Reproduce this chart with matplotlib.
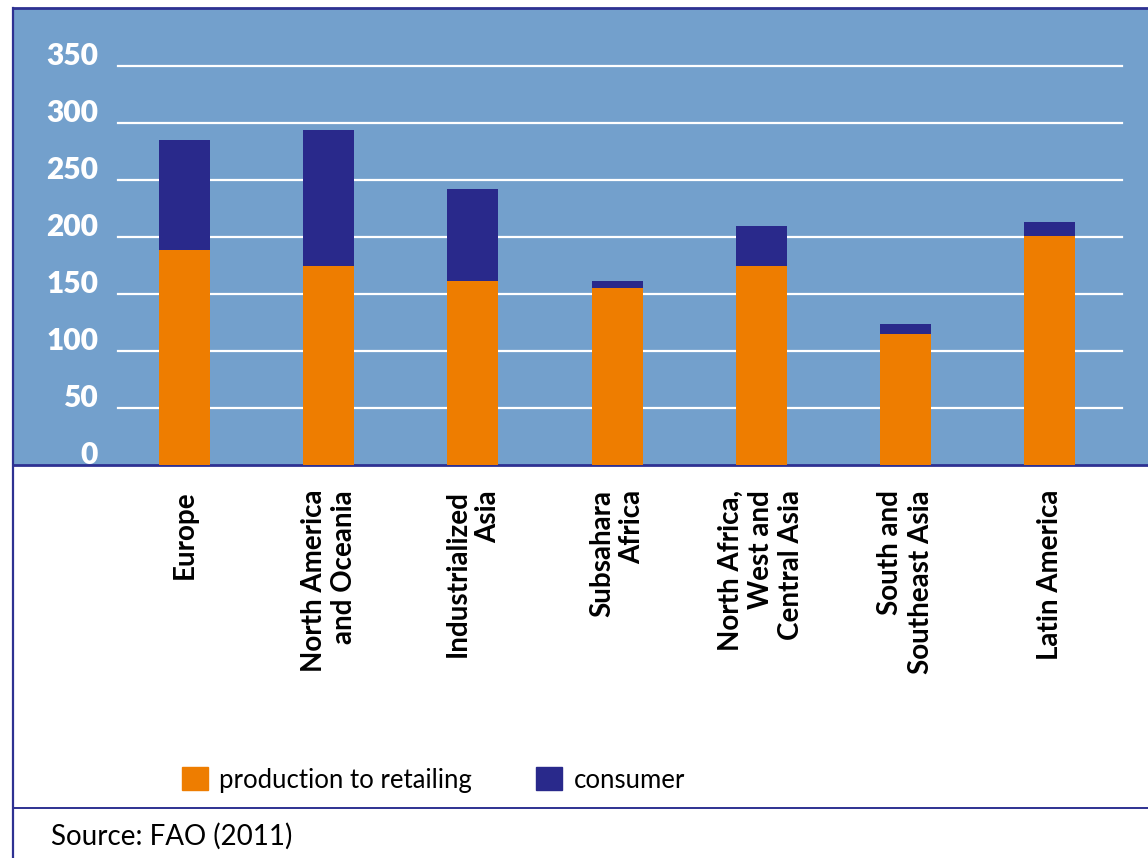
"""Food loss per capita by region, stacked by stage of the supply chain."""

import matplotlib

matplotlib.use("Agg")
import matplotlib.pyplot as plt
from matplotlib.lines import Line2D
from matplotlib.patches import Patch

plt.rcParams["font.family"] = ["Lato", "DejaVu Sans"]

regions = [
    "Europe",
    "North America\nand Oceania",
    "Industrialized\nAsia",
    "Subsahara\nAfrica",
    "North Africa,\nWest and\nCentral Asia",
    "South and\nSoutheast Asia",
    "Latin America",
]
production = [189, 175, 161, 155, 175, 115, 201]
consumer = [96, 119, 81, 6, 35, 9, 12]
y_ticks = [0, 50, 100, 150, 200, 250, 300, 350]
series_labels = ["production to retailing", "consumer"]
source_note = "Source: FAO (2011)"

BLUE = "#73A0CC"
ORANGE = "#EE7D00"
NAVY = "#29298B"
RULE = "#2E3192"

W, H = 1148, 858
fig = plt.figure(figsize=(W / 100, H / 100), dpi=100)

ax = fig.add_axes([13 / W, 1 - 465 / H, 1135 / W, 457 / H])
ax.set_facecolor(BLUE)
ax.set_xlim(-1.189, 6.682)
ax.set_ylim(0, 400.9)

x = list(range(len(regions)))
ax.bar(x, production, width=0.354, color=ORANGE, zorder=3)
ax.bar(x, consumer, bottom=production, width=0.354, color=NAVY, zorder=3)

# white rules and value labels sit inside the blue panel
for v in y_ticks:
    if v > 0:
        ax.axhline(v, xmin=0.0925, xmax=0.977, color="white", lw=1.6, zorder=1)
    ax.text(0.075, v + 1, str(v), transform=ax.get_yaxis_transform(),
            ha="right", va="baseline", color="white",
            fontsize=21.5, fontweight="heavy")

ax.set_yticks([])
ax.set_xticks(x)
ax.set_xticklabels(regions, rotation=90, fontsize=20, fontweight="bold",
                   multialignment="right", linespacing=1.2)
ax.tick_params(axis="x", length=0, pad=18)

for side in ("top", "bottom"):
    ax.spines[side].set_color(RULE)
    ax.spines[side].set_linewidth(2)
ax.spines["left"].set_visible(False)
ax.spines["right"].set_visible(False)

# frame lines around the whole graphic
fig.add_artist(Line2D([12.5 / W, 12.5 / W], [0, 1 - 8 / H], color=RULE, lw=1.6))
fig.add_artist(Line2D([12.5 / W, 1], [1 - 808 / H] * 2, color=RULE, lw=1.4))

handles = [Patch(color=ORANGE), Patch(color=NAVY)]
fig.legend(handles, series_labels, loc="center left",
           bbox_to_anchor=(182 / W, 1 - 780 / H), ncol=2, frameon=False,
           fontsize=18.5, handlelength=1.0, handleheight=1.0,
           handletextpad=0.45, columnspacing=2.5,
           borderpad=0, borderaxespad=0)

fig.text(51 / W, 1 - 836 / H, source_note, fontsize=20, va="center")

fig.savefig("out.png", dpi=100)
plt.close(fig)
